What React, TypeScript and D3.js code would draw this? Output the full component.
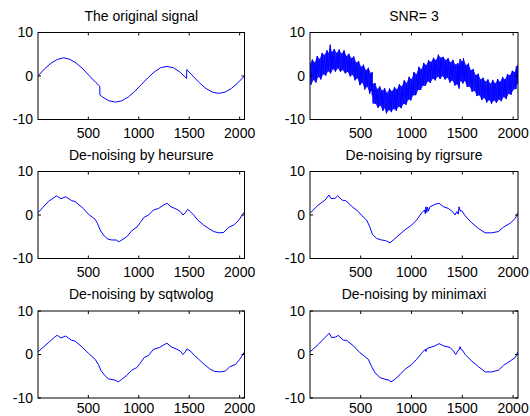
import * as d3 from "d3";

const width = 530;
const height = 416;

// axes boxes
const colX = [
  [38, 244.5],
  [310, 518],
];
const rowY = [32.5, 171.5, 311];
const boxH = 87;

const xTicks = [500, 1000, 1500, 2000];
const yTicks = [-10, 0, 10];

const titles = [
  "The original signal",
  "SNR= 3",
  "De-noising by heursure",
  "De-noising by rigrsure",
  "De-noising by sqtwolog",
  "De-noising by minimaxi",
];

// [sample, value]
const original: [number, number][] = [
  [1, 0], [64, 1.6], [128, 2.9], [192, 3.8], [256, 4.2], [320, 3.8],
  [384, 2.9], [448, 1.6], [512, 0], [576, -1.53], [613, -2.35], [615, -4.35],
  [640, -4.83], [704, -5.7], [768, -6.0], [832, -5.7], [896, -4.83], [960, -3.53],
  [1024, -2.0], [1088, -0.47], [1152, 0.9], [1216, 1.9], [1280, 2.2], [1344, 1.9],
  [1408, 0.9], [1474, -0.53], [1476, 1.47], [1536, 0], [1600, -1.53], [1664, -2.83],
  [1728, -3.7], [1792, -4.0], [1856, -3.7], [1920, -2.83], [1984, -1.53], [2048, 0],
];

const noisyUpper: [number, number][] = [
  [1, 2.9], [24, 3.8], [48, 3.1], [72, 4.6], [96, 3.9], [120, 5.3], [144, 4.8],
  [168, 5.9], [192, 5.2], [200, 7.2], [216, 5.5], [240, 6.2], [264, 5.3], [288, 6.1],
  [312, 5.1], [336, 5.9], [360, 4.6], [384, 5.1], [408, 4.1], [432, 4.5], [456, 3.1],
  [480, 3.4], [504, 2.1], [528, 2.6], [552, 1.3], [576, 1.9], [600, 0.6], [613, 0.9],
  [616, -1.8], [640, -1.6], [664, -3.0], [688, -2.4], [712, -3.4], [736, -2.8],
  [760, -3.9], [784, -2.9], [808, -3.5], [832, -2.5], [856, -3.1], [880, -1.9],
  [904, -2.4], [928, -1.0], [952, -1.6], [976, -0.2], [1000, -0.8], [1024, 0.9],
  [1048, 0.4], [1072, 2.1], [1096, 1.5], [1120, 3.0], [1144, 2.5], [1168, 3.6],
  [1192, 3.2], [1216, 4.2], [1240, 3.6], [1264, 4.9], [1288, 4.2], [1312, 4.4],
  [1336, 3.6], [1360, 4.1], [1384, 3.1], [1408, 3.7], [1432, 2.6], [1456, 3.0],
  [1472, 2.2], [1478, 3.9], [1500, 3.3], [1512, 4.1], [1536, 2.5], [1560, 2.9],
  [1584, 1.3], [1608, 1.6], [1632, 0.2], [1656, 0.5], [1680, -0.8], [1704, -0.4],
  [1728, -1.3], [1752, -0.8], [1776, -1.8], [1800, -0.9], [1824, -1.7], [1848, -0.7],
  [1872, -1.4], [1896, -0.2], [1920, -0.8], [1944, 0.4], [1968, 0.2], [1992, 1.2],
  [2016, 0.9], [2032, 2.2], [2048, 2.6],
];

const noisyLower: [number, number][] = [
  [12, -2.0], [36, -0.9], [60, -1.5], [84, -0.2], [108, -0.8], [132, 0.4], [156, 0.1],
  [180, 1.1], [204, 0.6], [228, 1.6], [252, 1.0], [276, 1.8], [300, 1.0], [324, 1.4],
  [348, 0.6], [372, 1.0], [396, -0.1], [420, 0.3], [444, -1.0], [468, -0.5],
  [492, -2.1], [516, -1.5], [540, -3.1], [564, -2.4], [588, -4.1], [606, -3.4],
  [614, -4.4], [622, -6.3], [646, -6.4], [670, -7.3], [694, -6.8], [718, -8.0],
  [742, -7.3], [754, -8.6], [778, -7.8], [802, -8.3], [826, -7.5], [850, -8.0],
  [874, -7.0], [898, -7.4], [922, -6.4], [946, -6.6], [970, -5.4], [994, -5.6],
  [1018, -4.4], [1042, -4.4], [1066, -3.2], [1090, -3.2], [1114, -2.2], [1138, -2.3],
  [1162, -1.2], [1186, -1.6], [1210, -0.6], [1234, -1.0], [1258, -0.1], [1282, -0.7],
  [1306, 0.0], [1330, -0.8], [1354, -0.4], [1378, -1.5], [1402, -1.0], [1426, -2.2],
  [1450, -1.9], [1468, -2.9], [1482, -1.1], [1506, -1.7], [1524, -1.1],
  [1548, -2.5], [1572, -2.4], [1596, -3.6], [1620, -3.4], [1644, -4.6], [1668, -4.4],
  [1692, -5.5], [1716, -5.0], [1740, -6.1], [1764, -5.5], [1788, -6.4], [1812, -5.6],
  [1836, -6.2], [1860, -5.4], [1884, -5.8], [1908, -4.8], [1932, -5.3], [1956, -4.1],
  [1980, -4.3], [2004, -3.1], [2028, -3.0], [2040, -1.8],
];

const heursure: [number, number][] = [
  [1, 0.5], [103, 3.1], [185, 4.4], [229, 3.75], [275, 4.2], [335, 3.3], [368, 3.1],
  [450, 1.5], [500, 0.2], [567, -1.0], [590, -1.9], [616, -3.4], [650, -4.6],
  [689, -5.5], [732, -5.75], [782, -5.75], [798, -6.2], [832, -5.75], [881, -5.0],
  [931, -3.6], [981, -2.8], [1014, -1.76], [1054, -0.5], [1097, 0], [1146, 1.15],
  [1196, 1.5], [1246, 2.3], [1279, 2.7], [1319, 1.9], [1378, 1.3], [1412, 0.8],
  [1438, 0.0], [1461, 0.5], [1484, 1.3], [1511, 0.8], [1544, 0], [1584, -1.15],
  [1643, -2.3], [1693, -3.1], [1743, -3.8], [1793, -4.1], [1842, -4.0], [1892, -2.8],
  [1942, -2.3], [1992, -1.15], [2025, 0], [2048, 0.7],
];

const rigrsure: [number, number][] = [
  [1, 0.4], [82, 2.3], [148, 3.4], [187, 4.6], [207, 3.8], [246, 3.8], [273, 4.4],
  [319, 3.4], [352, 3.3], [417, 1.9], [476, 0.8], [526, -0.5], [558, -1.15],
  [591, -2.8], [614, -4.4], [657, -5.4], [706, -5.75], [746, -5.9], [788, -6.4],
  [821, -5.75], [877, -4.6], [936, -3.4], [1002, -2.3], [1051, -1.15], [1100, 0.5],
  [1127, 1.15], [1136, 0.3], [1142, 1.9], [1150, 0.6], [1158, 1.8], [1166, 0.9],
  [1183, 1.9], [1232, 2.45], [1271, 2.7], [1314, 1.9], [1363, 1.5], [1403, 0.8],
  [1429, 0], [1445, 0.8], [1460, 0.2], [1468, 1.9], [1480, 0.9], [1495, 1.0],
  [1528, -0.2], [1593, -1.8], [1659, -3.1], [1725, -4.1], [1790, -4.1], [1856, -3.8],
  [1905, -2.8], [1971, -1.9], [2020, -0.8], [2048, 0.5],
];

const sqtwolog: [number, number][] = [
  [1, 0.6], [103, 2.7], [179, 4.25], [192, 4.4], [229, 3.8], [275, 4.25], [335, 3.25],
  [368, 3.1], [444, 1.6], [500, 0.3], [567, -1.1], [600, -2.3], [623, -3.6],
  [666, -4.9], [699, -5.6], [765, -5.9], [798, -6.3], [832, -5.7], [881, -4.8],
  [931, -3.6], [981, -3.0], [1014, -2.0], [1054, -0.7], [1097, -0.2], [1146, 1.2],
  [1206, 1.6], [1246, 2.2], [1279, 2.6], [1319, 1.8], [1378, 1.2], [1412, 0.8],
  [1438, 0.0], [1461, 0.6], [1478, 1.3], [1511, 0.8], [1551, -0.2], [1594, -1.1],
  [1650, -2.3], [1703, -3.3], [1753, -3.9], [1809, -4.0], [1859, -3.8], [1902, -2.8],
  [1958, -2.3], [2001, -1.1], [2031, 0.0], [2048, 0.6],
];

const minimaxi: [number, number][] = [
  [1, 0.6], [82, 2.3], [148, 3.9], [190, 4.9], [213, 3.9], [253, 4.0], [279, 4.4],
  [329, 3.3], [361, 3.25], [427, 2.0], [493, 0.4], [542, -0.5], [575, -1.1],
  [608, -2.8], [641, -4.2], [690, -5.3], [739, -5.7], [779, -5.9], [798, -6.3],
  [837, -5.7], [887, -4.6], [936, -3.4], [1002, -2.3], [1051, -1.1], [1100, 0.3],
  [1135, 1.2], [1143, 0.7], [1152, 1.4], [1183, 1.6], [1232, 2.0], [1271, 2.5],
  [1314, 2.0], [1380, 1.6], [1412, 0.8], [1435, 0.0], [1455, 0.8], [1470, 1.2],
  [1478, 1.8], [1488, 1.1], [1501, 1.0], [1528, 0], [1593, -1.5], [1659, -2.8],
  [1725, -4.0], [1790, -4.0], [1856, -3.6], [1905, -2.5], [1971, -1.5], [2020, -0.7],
  [2048, 0.6],
];

// noisy trace: bounce between the read upper and lower extremes
const noisy: [number, number][] = [...noisyUpper, ...noisyLower].sort(
  (a, b) => a[0] - b[0],
);
// outline of the noisy band
const noisyBand: [number, number][] = [...noisyUpper, ...[...noisyLower].reverse()];

const lines: [number, number][][] = [
  original,
  noisy,
  heursure,
  rigrsure,
  sqtwolog,
  minimaxi,
];

const blue = "#0000ff";
const font = "Arial, 'Liberation Sans', sans-serif";

function Panel({ i }: { i: number }) {
  const [x0, x1] = colX[i % 2];
  const y0 = rowY[Math.floor(i / 2)];
  const y1 = y0 + boxH;
  const x = d3.scaleLinear().domain([1, 2048]).range([x0, x1]);
  const y = d3.scaleLinear().domain([-10, 10]).range([y1, y0]);
  const line = d3
    .line<[number, number]>()
    .x((d) => x(d[0]))
    .y((d) => y(d[1]));
  const clipId = `clip${i}`;
  const tl = 3;

  return (
    <g>
      <defs>
        <clipPath id={clipId}>
          <rect x={x0} y={y0} width={x1 - x0} height={y1 - y0} />
        </clipPath>
      </defs>
      <g clipPath={`url(#${clipId})`}>
        {i === 1 && (
          <path d={(line(noisyBand) ?? "") + "Z"} fill={blue} fillOpacity={0.88} />
        )}
        <path
          d={line(lines[i]) ?? ""}
          fill="none"
          stroke={blue}
          strokeWidth={1}
        />
      </g>
      <rect
        x={x0}
        y={y0}
        width={x1 - x0}
        height={y1 - y0}
        fill="none"
        stroke="#000"
        strokeWidth={1}
      />
      {xTicks.map((t) => (
        <g key={t}>
          <line x1={x(t)} x2={x(t)} y1={y0} y2={y0 + tl} stroke="#000" />
          <line x1={x(t)} x2={x(t)} y1={y1} y2={y1 - tl} stroke="#000" />
          <text
            x={x(t)}
            y={Math.min(y1 + 18, height - 3)}
            textAnchor="middle"
            fontSize={14}
            fontFamily={font}
            fill="#000"
          >
            {t}
          </text>
        </g>
      ))}
      {yTicks.map((t) => (
        <g key={t}>
          <line x1={x0} x2={x0 + tl} y1={y(t)} y2={y(t)} stroke="#000" />
          <line x1={x1} x2={x1 - tl} y1={y(t)} y2={y(t)} stroke="#000" />
          <text
            x={x0 - 5}
            y={y(t)}
            dy="0.35em"
            textAnchor="end"
            fontSize={14}
            fontFamily={font}
            fill="#000"
          >
            {t}
          </text>
        </g>
      ))}
      <text
        x={(x0 + x1) / 2}
        y={y0 - 12}
        textAnchor="middle"
        fontSize={14}
        fontFamily={font}
        fill="#000"
      >
        {titles[i]}
      </text>
    </g>
  );
}

export default function App() {
  return (
    <svg
      width={width}
      height={height}
      style={{ position: "absolute", left: 0, top: 0, background: "#fff" }}
    >
      <rect width={width} height={height} fill="#fff" />
      {titles.map((_, i) => (
        <Panel key={i} i={i} />
      ))}
    </svg>
  );
}
